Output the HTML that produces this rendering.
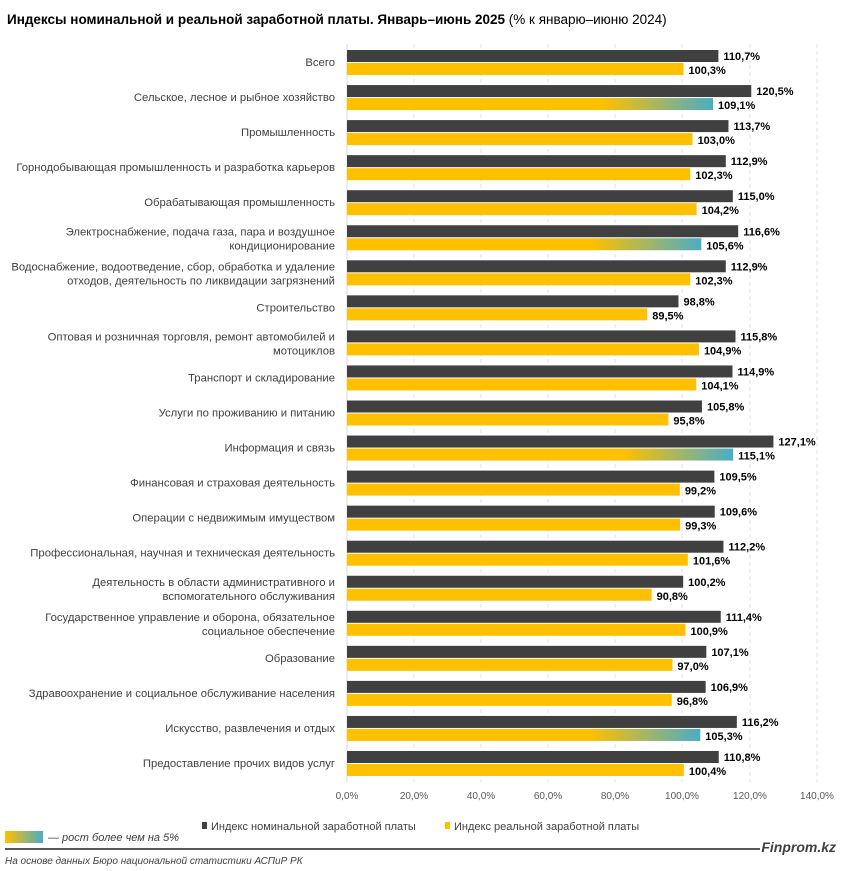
<!DOCTYPE html>
<html><head><meta charset="utf-8"><style>
body{margin:0;background:#fff;}
svg{display:block;font-family:"Liberation Sans",sans-serif;}
</style></head><body>
<svg width="841" height="871" viewBox="0 0 841 871" xmlns="http://www.w3.org/2000/svg">
<defs>
<linearGradient id="g" x1="0" x2="1" y1="0" y2="0"><stop offset="0" stop-color="#ffc000"/><stop offset="1" stop-color="#4bacc6"/></linearGradient>
</defs>
<text x="7" y="24" font-size="13.5" fill="#000"><tspan font-weight="bold">Индексы номинальной и реальной заработной платы. Январь–июнь 2025</tspan> (% к январю–июню 2024)</text>
<g id="grid" stroke="#e3e3e3" stroke-dasharray="4,3" stroke-width="1">
<line x1="414" y1="44" x2="414" y2="782"/><line x1="481" y1="44" x2="481" y2="782"/><line x1="548" y1="44" x2="548" y2="782"/><line x1="615" y1="44" x2="615" y2="782"/><line x1="682" y1="44" x2="682" y2="782"/><line x1="750" y1="44" x2="750" y2="782"/><line x1="817" y1="44" x2="817" y2="782"/>
</g>
<line x1="347" y1="44" x2="347" y2="782" stroke="#d9d9d9"/>
<g id="bars"></g>
<g font-size="10" fill="#595959" text-anchor="middle">
<text x="347" y="799">0,0%</text><text x="414" y="799">20,0%</text><text x="481" y="799">40,0%</text><text x="548" y="799">60,0%</text><text x="615" y="799">80,0%</text><text x="682" y="799">100,0%</text><text x="750" y="799">120,0%</text><text x="817" y="799">140,0%</text>
</g>
<rect x="202" y="822" width="5" height="7" fill="#404040"/>
<text x="211" y="830" font-size="11" fill="#404040">Индекс номинальной заработной платы</text>
<rect x="445" y="822" width="5" height="7" fill="#ffc000"/>
<text x="454" y="830" font-size="11" fill="#404040">Индекс реальной заработной платы</text>
<rect x="5" y="831" width="38" height="12" fill="url(#g)"/>
<text x="48" y="841" font-size="11" font-style="italic" fill="#404040">— рост более чем на 5%</text>
<line x1="5" y1="849" x2="760" y2="849" stroke="#595959" stroke-width="2"/>
<text x="836" y="852" font-size="14" font-style="italic" font-weight="bold" fill="#404040" text-anchor="end">Finprom.kz</text>
<text x="5" y="864" font-size="10" font-style="italic" fill="#404040">На основе данных Бюро национальной статистики АСПиР РК</text>
</svg>
<script>
var d=[["Всего",110.7,100.3],["Сельское, лесное и рыбное хозяйство",120.5,109.1],["Промышленность",113.7,103.0],["Горнодобывающая промышленность и разработка карьеров",112.9,102.3],["Обрабатывающая промышленность",115.0,104.2],["Электроснабжение, подача газа, пара и воздушное|кондиционирование",116.6,105.6],["Водоснабжение, водоотведение, сбор, обработка и удаление|отходов, деятельность по ликвидации загрязнений",112.9,102.3],["Строительство",98.8,89.5],["Оптовая и розничная торговля, ремонт автомобилей и|мотоциклов",115.8,104.9],["Транспорт и складирование",114.9,104.1],["Услуги по проживанию и питанию",105.8,95.8],["Информация и связь",127.1,115.1],["Финансовая и страховая деятельность",109.5,99.2],["Операции с недвижимым имуществом",109.6,99.3],["Профессиональная, научная и техническая деятельность",112.2,101.6],["Деятельность в области административного и|вспомогательного обслуживания",100.2,90.8],["Государственное управление и оборона, обязательное|социальное обеспечение",111.4,100.9],["Образование",107.1,97.0],["Здравоохранение и социальное обслуживание населения",106.9,96.8],["Искусство, развлечения и отдых",116.2,105.3],["Предоставление прочих видов услуг",110.8,100.4]];
var s="",x0=347,k=3.355;
function f(v){return v.toFixed(1).replace(".",",")+"%";}
d.forEach(function(r,i){
var y=50+35.05*i,w1=r[1]*k,w2=r[2]*k;
s+='<rect x="'+x0+'" y="'+y+'" width="'+w1+'" height="12" fill="#404040"/>';
if(r[2]>105){
var st=(w2-110)/w2;
s+='<linearGradient id="h'+i+'" x1="0" x2="1"><stop offset="0" stop-color="#ffc000"/><stop offset="'+st+'" stop-color="#ffc000"/><stop offset="1" stop-color="#4bacc6"/></linearGradient>';
s+='<rect x="'+x0+'" y="'+(y+13)+'" width="'+w2+'" height="12" fill="url(#h'+i+')"/>';
}else s+='<rect x="'+x0+'" y="'+(y+13)+'" width="'+w2+'" height="12" fill="#ffc000"/>';
s+='<text x="'+(x0+w1+5)+'" y="'+(y+10)+'" font-size="11" font-weight="bold" fill="#000">'+f(r[1])+'</text>';
s+='<text x="'+(x0+w2+5)+'" y="'+(y+24)+'" font-size="11" font-weight="bold" fill="#000">'+f(r[2])+'</text>';
var L=r[0].split("|");
if(L.length==1)s+='<text x="335" y="'+(y+16)+'" font-size="11.3" fill="#404040" text-anchor="end">'+L[0]+'</text>';
else{s+='<text x="335" y="'+(y+10)+'" font-size="11.3" fill="#404040" text-anchor="end">'+L[0]+'</text><text x="335" y="'+(y+24)+'" font-size="11.3" fill="#404040" text-anchor="end">'+L[1]+'</text>';}
});
document.getElementById("bars").innerHTML=s;
</script>
</body></html>
